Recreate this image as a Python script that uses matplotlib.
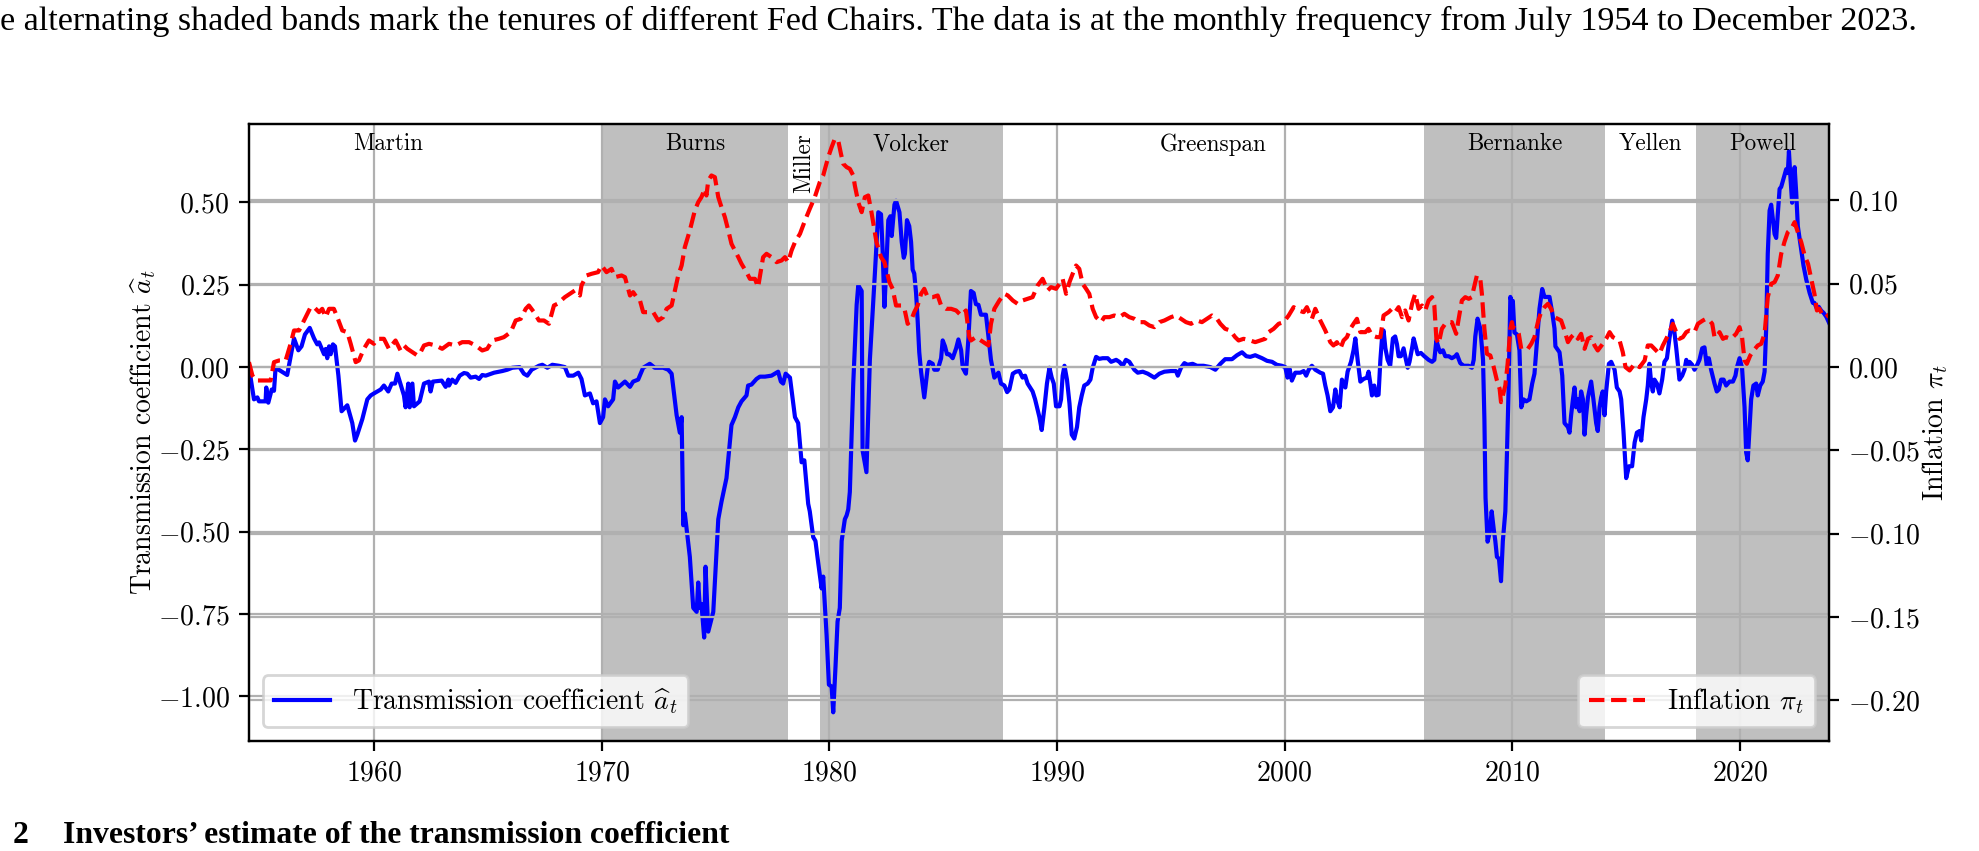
import matplotlib
matplotlib.use("Agg")
import matplotlib.pyplot as plt

plt.rcParams.update({
    "font.family": "serif",
    "font.serif": ["cmr10"],
    "mathtext.fontset": "cm",
    "axes.formatter.use_mathtext": True,
    "font.size": 10,
})

# transmission coefficient a_t (blue)
a_years = [1954.50, 1954.72, 1954.87, 1954.94, 1955.23, 1955.26, 1955.35, 1955.50, 1955.60, 1955.67,
           1956.18, 1956.48, 1956.67, 1956.81, 1956.96, 1957.17, 1957.36, 1957.50, 1957.58, 1957.80,
           1957.87, 1957.94, 1958.02, 1958.09, 1958.19, 1958.28, 1958.43, 1958.57, 1958.82, 1959.04,
           1959.16, 1959.26, 1959.48, 1959.70, 1959.85, 1959.99, 1960.29, 1960.43, 1960.62, 1960.77,
           1960.92, 1961.02, 1961.31, 1961.38, 1961.50, 1961.56, 1961.68, 1961.75, 1962.00, 1962.19,
           1962.41, 1962.48, 1962.58, 1962.97, 1963.14, 1963.26, 1963.29, 1963.43, 1963.58, 1963.76,
           1963.95, 1964.09, 1964.24, 1964.46, 1964.61, 1964.75, 1964.90, 1965.27, 1965.63, 1965.85,
           1966.07, 1966.39, 1966.58, 1966.73, 1966.92, 1967.24, 1967.39, 1967.61, 1967.83, 1968.12,
           1968.38, 1968.53, 1968.75, 1968.97, 1969.11, 1969.26, 1969.48, 1969.62, 1969.77, 1969.92,
           1970.06, 1970.14, 1970.28, 1970.50, 1970.58, 1970.72, 1971.02, 1971.24, 1971.38, 1971.60,
           1971.82, 1972.11, 1972.33, 1972.70, 1972.92, 1973.07, 1973.29, 1973.43, 1973.51, 1973.58,
           1973.65, 1973.87, 1974.02, 1974.17, 1974.24, 1974.31, 1974.38, 1974.50, 1974.56, 1974.68,
           1974.90, 1975.12, 1975.26, 1975.48, 1975.70, 1975.85, 1976.00, 1976.14, 1976.36, 1976.43,
           1976.58, 1976.80, 1976.95, 1977.17, 1977.46, 1977.75, 1977.87, 1977.97, 1978.08, 1978.27,
           1978.49, 1978.63, 1978.78, 1978.90, 1979.07, 1979.14, 1979.29, 1979.39, 1979.51, 1979.66,
           1979.73, 1979.88, 1979.98, 1980.10, 1980.17, 1980.27, 1980.36, 1980.46, 1980.54, 1980.68,
           1980.76, 1980.83, 1980.90, 1981.05, 1981.20, 1981.27, 1981.42, 1981.46, 1981.63, 1981.78,
           1982.00, 1982.15, 1982.27, 1982.34, 1982.42, 1982.49, 1982.59, 1982.68, 1982.74, 1982.86,
           1982.93, 1983.08, 1983.18, 1983.27, 1983.32, 1983.41, 1983.51, 1983.59, 1983.66, 1983.73,
           1983.81, 1983.88, 1983.95, 1984.03, 1984.17, 1984.32, 1984.39, 1984.54, 1984.61, 1984.76,
           1984.91, 1984.98, 1985.08, 1985.17, 1985.27, 1985.42, 1985.57, 1985.67, 1985.79, 1985.86,
           1986.00, 1986.11, 1986.22, 1986.34, 1986.44, 1986.55, 1986.66, 1986.88, 1986.99, 1987.10,
           1987.25, 1987.32, 1987.43, 1987.54, 1987.69, 1987.81, 1987.91, 1988.06, 1988.20, 1988.35,
           1988.49, 1988.60, 1988.71, 1988.93, 1989.04, 1989.23, 1989.33, 1989.45, 1989.56, 1989.67,
           1989.77, 1989.86, 1989.96, 1990.11, 1990.18, 1990.25, 1990.33, 1990.44, 1990.55, 1990.65,
           1990.76, 1990.88, 1990.98, 1991.09, 1991.20, 1991.35, 1991.47, 1991.57, 1991.72, 1991.86,
           1992.01, 1992.23, 1992.38, 1992.60, 1992.74, 1992.89, 1993.03, 1993.18, 1993.40, 1993.55,
           1993.77, 1993.99, 1994.28, 1994.50, 1994.72, 1995.01, 1995.23, 1995.31, 1995.45, 1995.60,
           1995.74, 1995.96, 1996.15, 1996.44, 1996.74, 1996.96, 1997.18, 1997.39, 1997.69, 1997.91,
           1998.13, 1998.32, 1998.49, 1998.71, 1999.01, 1999.23, 1999.45, 1999.66, 1999.88, 2000.03,
           2000.13, 2000.22, 2000.32, 2000.47, 2000.69, 2000.84, 2000.95, 2001.06, 2001.20, 2001.35,
           2001.57, 2001.69, 2001.79, 2001.89, 2002.01, 2002.13, 2002.23, 2002.30, 2002.42, 2002.52,
           2002.67, 2002.77, 2002.92, 2003.03, 2003.11, 2003.21, 2003.33, 2003.47, 2003.62, 2003.69,
           2003.77, 2003.84, 2003.94, 2004.03, 2004.13, 2004.21, 2004.28, 2004.35, 2004.43, 2004.53,
           2004.64, 2004.76, 2004.86, 2004.94, 2005.01, 2005.11, 2005.23, 2005.30, 2005.41, 2005.49,
           2005.60, 2005.67, 2005.74, 2005.85, 2005.99, 2006.14, 2006.33, 2006.48, 2006.58, 2006.67,
           2006.77, 2006.84, 2006.96, 2007.06, 2007.21, 2007.35, 2007.50, 2007.57, 2007.72, 2007.87,
           2008.09, 2008.23, 2008.31, 2008.38, 2008.48, 2008.60, 2008.72, 2008.78, 2008.83, 2008.92,
           2009.01, 2009.10, 2009.19, 2009.26, 2009.33, 2009.42, 2009.51, 2009.59, 2009.70, 2009.77,
           2009.84, 2009.92, 2009.99, 2010.03, 2010.10, 2010.21, 2010.32, 2010.40, 2010.50, 2010.62,
           2010.76, 2010.88, 2010.98, 2011.08, 2011.20, 2011.32, 2011.42, 2011.64, 2011.76, 2011.86,
           2011.90, 2012.08, 2012.20, 2012.30, 2012.45, 2012.52, 2012.59, 2012.67, 2012.74, 2012.81,
           2012.89, 2012.96, 2013.03, 2013.11, 2013.18, 2013.25, 2013.33, 2013.47, 2013.57, 2013.69,
           2013.76, 2013.84, 2013.91, 2013.98, 2014.06, 2014.13, 2014.25, 2014.35, 2014.50, 2014.60,
           2014.72, 2014.79, 2014.89, 2015.01, 2015.13, 2015.27, 2015.38, 2015.48, 2015.60, 2015.67,
           2015.77, 2015.89, 2015.96, 2016.03, 2016.11, 2016.18, 2016.25, 2016.36, 2016.47, 2016.59,
           2016.69, 2016.80, 2016.91, 2017.03, 2017.13, 2017.21, 2017.35, 2017.47, 2017.57, 2017.65,
           2017.72, 2017.79, 2017.91, 2018.01, 2018.11, 2018.23, 2018.35, 2018.45, 2018.55, 2018.64,
           2018.74, 2018.89, 2018.99, 2019.08, 2019.18, 2019.29, 2019.40, 2019.55, 2019.70, 2019.81,
           2019.87, 2019.99, 2020.10, 2020.21, 2020.28, 2020.35, 2020.43, 2020.50, 2020.60, 2020.72,
           2020.79, 2020.90, 2021.01, 2021.09, 2021.16, 2021.23, 2021.31, 2021.38, 2021.45, 2021.53,
           2021.60, 2021.67, 2021.75, 2021.82, 2021.92, 2022.04, 2022.11, 2022.16, 2022.22, 2022.30,
           2022.41, 2022.48, 2022.55, 2022.70, 2022.80, 2022.92, 2023.07, 2023.21, 2023.28, 2023.39,
           2023.47, 2023.58, 2023.68, 2023.80, 2023.92]
a_vals = [0.000, -0.098, -0.092, -0.104, -0.104, -0.062, -0.108, -0.068, -0.072, -0.002,
          -0.024, 0.087, 0.051, 0.063, 0.099, 0.119, 0.087, 0.069, 0.075, 0.039,
          0.055, 0.027, 0.063, 0.039, 0.069, 0.063, -0.026, -0.134, -0.116, -0.170,
          -0.223, -0.205, -0.158, -0.098, -0.086, -0.080, -0.068, -0.056, -0.074, -0.050,
          -0.050, -0.020, -0.086, -0.122, -0.050, -0.122, -0.050, -0.119, -0.104, -0.050,
          -0.044, -0.074, -0.044, -0.041, -0.060, -0.038, -0.056, -0.038, -0.048, -0.026,
          -0.018, -0.020, -0.032, -0.029, -0.036, -0.024, -0.026, -0.017, -0.012, -0.008,
          -0.002, 0.000, -0.020, -0.026, -0.008, 0.004, 0.007, -0.002, 0.007, 0.004,
          0.000, -0.026, -0.026, -0.017, -0.036, -0.086, -0.080, -0.110, -0.104, -0.170,
          -0.152, -0.098, -0.119, -0.098, -0.044, -0.062, -0.044, -0.060, -0.044, -0.038,
          -0.002, 0.010, -0.002, -0.002, -0.008, -0.020, -0.146, -0.199, -0.152, -0.480,
          -0.444, -0.576, -0.731, -0.743, -0.654, -0.731, -0.719, -0.821, -0.606, -0.803,
          -0.743, -0.462, -0.409, -0.337, -0.176, -0.152, -0.122, -0.104, -0.086, -0.056,
          -0.053, -0.036, -0.029, -0.029, -0.026, -0.014, -0.044, -0.050, -0.020, -0.032,
          -0.152, -0.170, -0.289, -0.283, -0.415, -0.438, -0.516, -0.528, -0.594, -0.672,
          -0.636, -0.815, -0.964, -0.970, -1.048, -0.910, -0.773, -0.731, -0.528, -0.462,
          -0.450, -0.432, -0.379, -0.050, 0.189, 0.248, 0.231, -0.253, -0.319, 0.022,
          0.284, 0.470, 0.464, 0.356, 0.183, 0.284, 0.446, 0.458, 0.398, 0.493,
          0.505, 0.470, 0.380, 0.332, 0.344, 0.446, 0.428, 0.380, 0.296, 0.284,
          0.225, 0.141, 0.045, -0.014, -0.092, -0.002, 0.016, 0.010, -0.008, -0.008,
          0.027, 0.081, 0.063, 0.039, 0.039, 0.027, 0.057, 0.084, 0.051, -0.002,
          -0.020, 0.087, 0.231, 0.225, 0.191, 0.189, 0.159, 0.159, 0.093, 0.022,
          -0.032, -0.026, -0.017, -0.050, -0.056, -0.076, -0.068, -0.020, -0.014, -0.012,
          -0.032, -0.026, -0.050, -0.074, -0.098, -0.152, -0.191, -0.122, -0.050, -0.002,
          -0.032, -0.050, -0.119, -0.119, -0.098, -0.026, 0.004, -0.038, -0.110, -0.205,
          -0.217, -0.182, -0.122, -0.086, -0.056, -0.050, -0.038, -0.002, 0.031, 0.025,
          0.027, 0.027, 0.016, 0.022, 0.016, 0.004, 0.022, 0.016, -0.008, -0.017,
          -0.014, -0.020, -0.032, -0.020, -0.014, -0.012, -0.012, -0.026, -0.002, 0.012,
          0.007, 0.010, 0.004, 0.004, 0.000, -0.008, 0.010, 0.024, 0.024, 0.036,
          0.045, 0.033, 0.031, 0.036, 0.027, 0.019, 0.016, 0.007, 0.004, 0.000,
          -0.032, -0.005, -0.041, -0.017, -0.017, -0.012, -0.026, -0.008, 0.004, -0.008,
          -0.017, -0.020, -0.056, -0.086, -0.134, -0.122, -0.068, -0.098, -0.122, -0.038,
          -0.062, -0.014, 0.016, 0.051, 0.087, 0.022, -0.044, -0.036, -0.032, -0.014,
          -0.050, -0.086, -0.056, -0.086, -0.084, 0.022, 0.087, 0.111, 0.057, 0.022,
          0.004, 0.087, 0.093, 0.069, 0.033, 0.033, 0.057, 0.033, -0.002, 0.016,
          0.057, 0.087, 0.069, 0.039, 0.043, 0.033, 0.022, 0.016, 0.022, 0.081,
          0.057, 0.045, 0.051, 0.033, 0.033, 0.027, 0.033, 0.039, 0.012, 0.004,
          0.004, -0.002, 0.022, 0.093, 0.147, 0.117, 0.022, -0.158, -0.397, -0.530,
          -0.504, -0.438, -0.492, -0.528, -0.576, -0.582, -0.650, -0.528, -0.438, -0.265,
          -0.074, 0.213, 0.195, 0.201, 0.105, 0.099, 0.051, -0.122, -0.098, -0.104,
          -0.098, -0.050, -0.020, 0.069, 0.177, 0.237, 0.213, 0.213, 0.165, 0.117,
          0.063, 0.045, -0.026, -0.170, -0.182, -0.199, -0.146, -0.098, -0.062, -0.122,
          -0.098, -0.134, -0.074, -0.098, -0.205, -0.146, -0.092, -0.044, -0.098, -0.170,
          -0.194, -0.122, -0.092, -0.074, -0.146, -0.074, 0.010, 0.016, -0.008, -0.062,
          -0.074, -0.098, -0.194, -0.337, -0.301, -0.301, -0.229, -0.199, -0.194, -0.223,
          -0.152, -0.098, -0.056, 0.010, -0.050, -0.074, -0.038, -0.050, -0.080, -0.038,
          0.016, 0.027, 0.087, 0.141, 0.105, 0.057, -0.038, -0.026, -0.008, 0.022,
          0.004, 0.016, 0.007, -0.008, 0.004, 0.022, 0.057, 0.060, 0.004, 0.027,
          -0.008, -0.050, -0.074, -0.068, -0.038, -0.038, -0.056, -0.044, -0.044, -0.026,
          -0.002, 0.027, -0.002, -0.122, -0.259, -0.283, -0.182, -0.098, -0.056, -0.050,
          -0.086, -0.056, -0.044, -0.014, 0.117, 0.344, 0.475, 0.493, 0.452, 0.404,
          0.392, 0.464, 0.541, 0.547, 0.571, 0.601, 0.589, 0.655, 0.583, 0.499,
          0.607, 0.529, 0.428, 0.356, 0.308, 0.266, 0.225, 0.195, 0.195, 0.177,
          0.183, 0.171, 0.165, 0.153, 0.135]

# inflation pi_t (red dashed)
pi_years = [1954.50, 1954.65, 1954.79, 1955.09, 1955.45, 1955.60, 1955.82, 1956.11, 1956.33, 1956.48,
            1956.70, 1956.92, 1957.21, 1957.36, 1957.58, 1957.72, 1957.87, 1958.02, 1958.23, 1958.38,
            1958.60, 1958.82, 1958.97, 1959.19, 1959.33, 1959.55, 1959.77, 1959.99, 1960.14, 1960.43,
            1960.65, 1960.94, 1961.16, 1961.31, 1961.46, 1961.68, 1961.90, 1962.04, 1962.19, 1962.41,
            1962.70, 1962.99, 1963.29, 1963.58, 1963.87, 1964.17, 1964.46, 1964.75, 1964.97, 1965.19,
            1965.48, 1965.70, 1966.00, 1966.22, 1966.44, 1966.66, 1966.80, 1967.02, 1967.24, 1967.46,
            1967.68, 1967.90, 1968.05, 1968.38, 1968.60, 1968.82, 1969.04, 1969.11, 1969.33, 1969.55,
            1969.84, 1969.99, 1970.21, 1970.43, 1970.58, 1970.87, 1971.02, 1971.24, 1971.38, 1971.53,
            1971.68, 1971.82, 1972.04, 1972.26, 1972.48, 1972.70, 1972.85, 1973.07, 1973.36, 1973.51,
            1973.65, 1973.87, 1974.09, 1974.24, 1974.38, 1974.53, 1974.60, 1974.68, 1974.82, 1974.97,
            1975.12, 1975.26, 1975.41, 1975.56, 1975.70, 1975.85, 1976.00, 1976.14, 1976.36, 1976.51,
            1976.73, 1976.87, 1977.09, 1977.24, 1977.46, 1977.68, 1977.90, 1978.05, 1978.19, 1978.34,
            1978.49, 1978.71, 1978.93, 1979.14, 1979.36, 1979.58, 1979.73, 1979.95, 1980.10, 1980.24,
            1980.39, 1980.51, 1980.61, 1980.76, 1980.90, 1981.05, 1981.12, 1981.27, 1981.42, 1981.56,
            1981.71, 1981.85, 1982.07, 1982.27, 1982.42, 1982.64, 1982.78, 1982.93, 1983.15, 1983.30,
            1983.44, 1983.59, 1983.73, 1983.88, 1984.03, 1984.17, 1984.32, 1984.54, 1984.76, 1984.91,
            1985.13, 1985.35, 1985.57, 1985.79, 1986.00, 1986.15, 1986.22, 1986.44, 1986.66, 1986.88,
            1986.99, 1987.10, 1987.25, 1987.47, 1987.69, 1987.84, 1988.06, 1988.27, 1988.49, 1988.71,
            1988.93, 1989.15, 1989.37, 1989.59, 1989.74, 1989.96, 1990.11, 1990.25, 1990.40, 1990.55,
            1990.69, 1990.84, 1990.98, 1991.13, 1991.28, 1991.42, 1991.57, 1991.72, 1991.94, 1992.08,
            1992.30, 1992.52, 1992.74, 1992.96, 1993.18, 1993.40, 1993.62, 1993.84, 1994.06, 1994.28,
            1994.50, 1994.72, 1995.01, 1995.23, 1995.45, 1995.67, 1995.89, 1996.15, 1996.37, 1996.59,
            1996.81, 1997.03, 1997.18, 1997.39, 1997.61, 1997.83, 1997.98, 1998.20, 1998.49, 1998.71,
            1998.93, 1999.15, 1999.30, 1999.52, 1999.74, 1999.96, 2000.18, 2000.40, 2000.62, 2000.84,
            2000.98, 2001.20, 2001.35, 2001.57, 2001.79, 2002.01, 2002.15, 2002.30, 2002.45, 2002.59,
            2002.74, 2002.89, 2003.03, 2003.18, 2003.33, 2003.55, 2003.69, 2003.84, 2004.06, 2004.21,
            2004.35, 2004.57, 2004.72, 2004.86, 2005.01, 2005.16, 2005.30, 2005.45, 2005.60, 2005.74,
            2005.89, 2006.04, 2006.18, 2006.33, 2006.48, 2006.58, 2006.67, 2006.77, 2006.91, 2007.06,
            2007.21, 2007.35, 2007.54, 2007.65, 2007.79, 2007.94, 2008.09, 2008.23, 2008.31, 2008.45,
            2008.60, 2008.67, 2008.78, 2008.89, 2009.04, 2009.19, 2009.33, 2009.45, 2009.51, 2009.59,
            2009.70, 2009.80, 2009.92, 2009.99, 2010.03, 2010.18, 2010.29, 2010.40, 2010.54, 2010.69,
            2010.84, 2010.98, 2011.13, 2011.27, 2011.42, 2011.57, 2011.71, 2011.86, 2012.01, 2012.15,
            2012.30, 2012.45, 2012.59, 2012.74, 2012.89, 2013.03, 2013.18, 2013.33, 2013.47, 2013.62,
            2013.76, 2013.98, 2014.13, 2014.28, 2014.42, 2014.57, 2014.72, 2014.86, 2014.98, 2015.16,
            2015.38, 2015.60, 2015.82, 2015.96, 2016.11, 2016.33, 2016.47, 2016.62, 2016.77, 2016.91,
            2017.06, 2017.21, 2017.35, 2017.50, 2017.65, 2017.79, 2018.01, 2018.16, 2018.38, 2018.52,
            2018.67, 2018.79, 2018.89, 2018.99, 2019.11, 2019.26, 2019.40, 2019.62, 2019.84, 2019.99,
            2020.10, 2020.21, 2020.31, 2020.46, 2020.61, 2020.79, 2020.94, 2021.09, 2021.23, 2021.38,
            2021.53, 2021.67, 2021.82, 2021.96, 2022.11, 2022.26, 2022.41, 2022.55, 2022.70, 2022.85,
            2023.00, 2023.14, 2023.28, 2023.39, 2023.50, 2023.65, 2023.80, 2023.92]
pi_vals = [0.003, -0.005, -0.008, -0.008, -0.008, 0.003, 0.004, 0.004, 0.014, 0.022,
           0.022, 0.028, 0.036, 0.036, 0.033, 0.035, 0.030, 0.035, 0.035, 0.030,
           0.022, 0.021, 0.014, 0.003, 0.004, 0.011, 0.016, 0.014, 0.017, 0.017,
           0.011, 0.016, 0.010, 0.013, 0.011, 0.009, 0.007, 0.009, 0.013, 0.014,
           0.013, 0.011, 0.014, 0.013, 0.015, 0.015, 0.013, 0.010, 0.011, 0.016,
           0.017, 0.018, 0.021, 0.028, 0.029, 0.035, 0.037, 0.033, 0.028, 0.028,
           0.026, 0.037, 0.038, 0.042, 0.044, 0.046, 0.043, 0.049, 0.055, 0.056,
           0.057, 0.061, 0.057, 0.059, 0.054, 0.055, 0.054, 0.043, 0.045, 0.042,
           0.040, 0.033, 0.033, 0.033, 0.028, 0.030, 0.035, 0.037, 0.055, 0.061,
           0.072, 0.082, 0.094, 0.099, 0.102, 0.107, 0.103, 0.112, 0.115, 0.114,
           0.102, 0.096, 0.090, 0.082, 0.074, 0.070, 0.066, 0.062, 0.057, 0.053,
           0.053, 0.048, 0.066, 0.068, 0.066, 0.063, 0.064, 0.066, 0.063, 0.070,
           0.075, 0.080, 0.088, 0.095, 0.102, 0.111, 0.115, 0.126, 0.132, 0.137,
           0.136, 0.128, 0.122, 0.120, 0.119, 0.115, 0.109, 0.099, 0.093, 0.102,
           0.103, 0.093, 0.075, 0.066, 0.063, 0.051, 0.047, 0.037, 0.037, 0.035,
           0.026, 0.028, 0.033, 0.037, 0.044, 0.047, 0.042, 0.042, 0.043, 0.037,
           0.035, 0.035, 0.034, 0.031, 0.034, 0.018, 0.016, 0.018, 0.016, 0.014,
           0.013, 0.026, 0.035, 0.040, 0.044, 0.043, 0.040, 0.038, 0.040, 0.041,
           0.042, 0.049, 0.053, 0.046, 0.048, 0.047, 0.050, 0.053, 0.044, 0.051,
           0.056, 0.061, 0.059, 0.050, 0.047, 0.044, 0.035, 0.030, 0.027, 0.030,
           0.030, 0.031, 0.030, 0.032, 0.030, 0.029, 0.027, 0.027, 0.025, 0.024,
           0.027, 0.028, 0.030, 0.031, 0.029, 0.027, 0.026, 0.028, 0.027, 0.029,
           0.031, 0.029, 0.026, 0.023, 0.022, 0.018, 0.016, 0.017, 0.016, 0.015,
           0.016, 0.017, 0.021, 0.023, 0.026, 0.027, 0.031, 0.036, 0.034, 0.033,
           0.036, 0.029, 0.035, 0.028, 0.022, 0.015, 0.013, 0.015, 0.011, 0.016,
           0.018, 0.023, 0.026, 0.029, 0.021, 0.021, 0.023, 0.019, 0.018, 0.018,
           0.031, 0.033, 0.035, 0.033, 0.036, 0.030, 0.034, 0.028, 0.038, 0.044,
           0.035, 0.037, 0.034, 0.040, 0.042, 0.037, 0.017, 0.014, 0.023, 0.026,
           0.027, 0.027, 0.020, 0.029, 0.040, 0.042, 0.041, 0.042, 0.047, 0.055,
           0.053, 0.044, 0.023, 0.008, 0.007, 0.000, -0.008, -0.013, -0.021, -0.017,
           -0.011, 0.002, 0.023, 0.027, 0.024, 0.023, 0.020, 0.011, 0.011, 0.011,
           0.014, 0.018, 0.027, 0.033, 0.036, 0.038, 0.035, 0.030, 0.029, 0.028,
           0.022, 0.015, 0.018, 0.020, 0.017, 0.020, 0.011, 0.017, 0.018, 0.013,
           0.010, 0.014, 0.017, 0.021, 0.018, 0.017, 0.016, 0.009, 0.000, -0.002,
           0.002, 0.000, 0.004, 0.013, 0.013, 0.010, 0.008, 0.013, 0.017, 0.021,
           0.026, 0.021, 0.017, 0.018, 0.021, 0.022, 0.021, 0.026, 0.028, 0.029,
           0.028, 0.026, 0.018, 0.018, 0.021, 0.017, 0.018, 0.017, 0.020, 0.024,
           0.018, 0.004, 0.002, 0.007, 0.010, 0.013, 0.014, 0.020, 0.042, 0.050,
           0.051, 0.055, 0.068, 0.075, 0.081, 0.083, 0.087, 0.081, 0.075, 0.067,
           0.062, 0.053, 0.044, 0.034, 0.035, 0.031, 0.032, 0.030]

# Fed chairs: name, start, end of tenure, shaded or not
chairs = ["Martin", "Burns", "Miller", "Volcker", "Greenspan", "Bernanke", "Yellen", "Powell"]
chair_start = [1951.25, 1970.00, 1978.19, 1979.58, 1987.62, 2006.11, 2014.10, 2018.08]
chair_end = [1970.00, 1978.19, 1979.58, 1987.62, 2006.11, 2014.10, 2018.08, 2023.92]
chair_shaded = [False, True, False, True, False, True, False, True]

top_text = ("e alternating shaded bands mark the tenures of different Fed Chairs. "
            "The data is at the monthly frequency from July 1954 to December 2023.")
section_num = "2"
section_title = "Investors\u2019 estimate of the transmission coefficient"

fig = plt.figure(figsize=(9.895, 4.255), dpi=200)
ax = fig.add_axes([0.1258, 0.1293, 0.7984, 0.7250])
ax2 = ax.twinx()

trans = ax.get_xaxis_transform()
for name, s, e, sh in zip(chairs, chair_start, chair_end, chair_shaded):
    if sh:
        ax.axvspan(s, e, color="#bfbfbf", lw=0, zorder=0.5)
    ax.text((s + e) / 2, 0.985, name, transform=trans, ha="center", va="top",
            fontsize=8.33, rotation=90 if name == "Miller" else 0)

la, = ax.plot(a_years, a_vals, color="blue", lw=1.5, label=r"Transmission coefficient $\widehat{a}_t$")
lp, = ax2.plot(pi_years, pi_vals, color="red", ls="--", lw=1.5, label=r"Inflation $\pi_t$")

ax.set_xlim(1954.5, 2023.92)
ax.set_ylim(-1.135, 0.738)
ax2.set_ylim(-0.2243, 0.1459)
ax.grid(True)
ax2.grid(True)
ax.set_ylabel(r"Transmission coefficient $\widehat{a}_t$", labelpad=0)
ax2.set_ylabel(r"Inflation $\pi_t$", labelpad=0)

# both legends on the top axes so no grid line runs over them
leg1 = ax2.legend(handles=[la], loc="lower left")
ax2.add_artist(leg1)
ax2.legend(handles=[lp], loc="lower right")

# running text of the page around the figure
t = fig.text(0.0, 0.975, top_text, family="Liberation Serif", fontsize=11, ha="left", va="center")
n = fig.text(13 / 1979, 1 / 851, section_num, family="Liberation Serif", weight="bold",
             fontsize=11, ha="left", va="bottom")
s = fig.text(63 / 1979, 1 / 851, section_title, family="Liberation Serif", weight="bold",
             fontsize=11, ha="left", va="bottom")
fig.canvas.draw()
t.set_fontsize(11 * 1918 / t.get_window_extent().width)
s.set_fontsize(11 * (728 - 63) / s.get_window_extent().width)
n.set_fontsize(s.get_fontsize())

fig.savefig("out.png", dpi=200)
